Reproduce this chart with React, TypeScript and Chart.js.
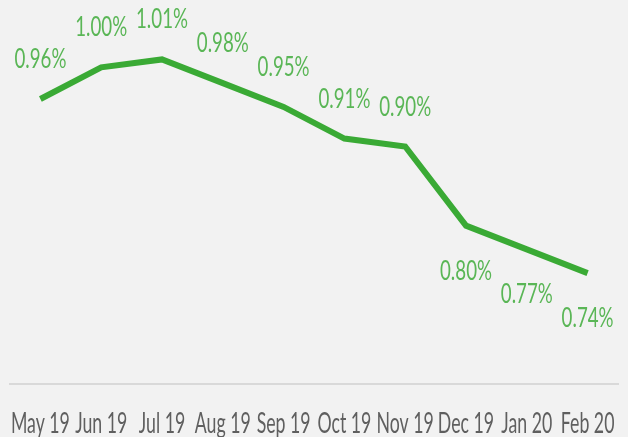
import React, { useEffect, useRef } from "react";
import { Chart, registerables } from "chart.js";

Chart.register(...registerables);

const categories = ["May 19", "Jun 19", "Jul 19", "Aug 19", "Sep 19", "Oct 19", "Nov 19", "Dec 19", "Jan 20", "Feb 20"];
const rates = [0.96, 1.0, 1.01, 0.98, 0.95, 0.91, 0.9, 0.8, 0.77, 0.74];
const labelSide = ["above", "above", "above", "above", "above", "above", "above", "below", "below", "below"];

const FONT = "Lato, 'Open Sans', 'Noto Sans', sans-serif";

const bgPlugin = {
  id: "bg",
  beforeDraw(chart: any) {
    const { ctx, width, height } = chart;
    ctx.save();
    ctx.fillStyle = "#f2f2f2";
    ctx.fillRect(0, 0, width, height);
    ctx.restore();
  },
};

function drawCondensed(ctx: CanvasRenderingContext2D, text: string, x: number, y: number, sx: number) {
  ctx.save();
  ctx.translate(x, y);
  ctx.scale(sx, 1);
  ctx.fillText(text, 0, 0);
  ctx.restore();
}

const labelPlugin = {
  id: "valueLabels",
  afterDatasetsDraw(chart: any) {
    const { ctx } = chart;
    const meta = chart.getDatasetMeta(0);
    ctx.save();
    ctx.font = `26px ${FONT}`;
    ctx.fillStyle = "#5ab656";
    ctx.textAlign = "center";
    ctx.textBaseline = "alphabetic";
    const sx = 52 / ctx.measureText("0.96%").width;
    meta.data.forEach((pt: any, i: number) => {
      const off = labelSide[i] === "below" ? 54 : -31;
      drawCondensed(ctx, rates[i].toFixed(2) + "%", pt.x, pt.y + off, sx);
    });
    ctx.restore();
  },
};

const tickPlugin = {
  id: "condensedTicks",
  afterDraw(chart: any) {
    const { ctx } = chart;
    const xs = chart.scales.x;
    ctx.save();
    ctx.font = `28px ${FONT}`;
    ctx.fillStyle = "#5f5f5f";
    ctx.textAlign = "center";
    ctx.textBaseline = "alphabetic";
    const sx = 59 / ctx.measureText("May 19").width;
    categories.forEach((c, i) => {
      drawCondensed(ctx, c, xs.getPixelForTick(i), xs.bottom + 49, sx);
    });
    ctx.restore();
  },
};

export default function App() {
  const ref = useRef<HTMLCanvasElement | null>(null);
  useEffect(() => {
    document.body.style.margin = "0";
    document.body.style.background = "#f2f2f2";
    const chart = new Chart(ref.current as HTMLCanvasElement, {
      type: "line",
      data: {
        labels: categories,
        datasets: [
          {
            data: rates,
            borderColor: "#3aaa35",
            borderWidth: 6,
            pointRadius: 0,
            tension: 0,
            fill: false,
          },
        ],
      },
      options: {
        animation: false,
        responsive: false,
        maintainAspectRatio: false,
        layout: { padding: { left: 10, right: 10, top: 4, bottom: 53 } },
        plugins: { legend: { display: false }, tooltip: { enabled: false } },
        scales: {
          x: {
            offset: true,
            grid: { display: false, drawTicks: false },
            border: { display: true, color: "#d9d9d9", width: 2 },
            ticks: { display: false },
          },
          y: { display: false, min: 0.6, max: 1.08 },
        },
      },
      plugins: [bgPlugin, labelPlugin, tickPlugin],
    });
    return () => chart.destroy();
  }, []);
  return (
    <div style={{ width: 628, height: 437, background: "#f2f2f2" }}>
      <canvas ref={ref} width={628} height={437} />
    </div>
  );
}
